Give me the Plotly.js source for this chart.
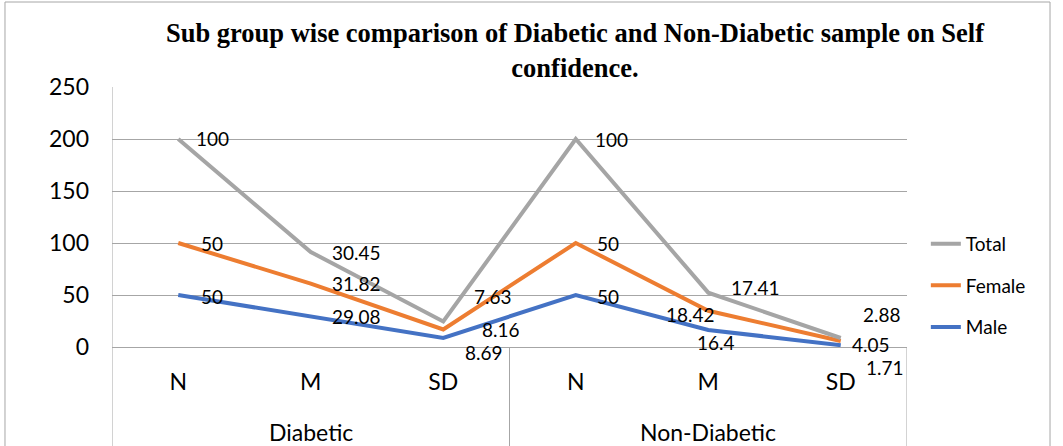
<!DOCTYPE html>
<html>
<head>
<meta charset="utf-8">
<script src="https://cdn.plot.ly/plotly-3.0.1.min.js"></script>
<style>
  html, body { margin: 0; padding: 0; background: #ffffff; }
  #chart { width: 1063px; height: 446px; }
</style>
</head>
<body>
<div id="chart"></div>
<script>
// ---- data ----
const groups = ["Diabetic", "Non-Diabetic"];
const subCategories = ["N", "M", "SD", "N", "M", "SD"];
const seriesNames = ["Male", "Female", "Total"];
const maleValues = [50, 29.08, 8.69, 50, 16.4, 1.71];
const femaleValues = [50, 31.82, 8.16, 50, 18.42, 4.05];
const totalValues = [100, 30.45, 7.63, 100, 17.41, 2.88];
const yTicks = [0, 50, 100, 150, 200, 250];

// ---- styles / label offsets (pixels) ----
const colors = { Male: "#4472C4", Female: "#ED7D31", Total: "#A5A5A5" };
const legendRanks = { Total: 1, Female: 2, Male: 3 };
const labelShift = {
  Total:  [[34, 1], [46, 0], [50, 25], [36, 0], [47, 5], [41, 24]],
  Female: [[34, 0], [46, 0], [58, 0], [32, 0], [-18, -4], [30, -3]],
  Male:   [[34, -1], [46, 0], [41, -15], [32, -1], [8, -13], [44, -22]]
};

const FONT = "Lato, 'Open Sans', sans-serif";
const xIdx = subCategories.map((_, i) => i);
const valuesBySeries = { Male: maleValues, Female: femaleValues, Total: totalValues };

const traces = seriesNames.map(name => ({
  type: "scatter",
  mode: "lines",
  name: name,
  x: xIdx,
  y: valuesBySeries[name],
  stackgroup: "one",
  fill: "none",
  legendgroup: name,
  legendrank: legendRanks[name],
  line: { color: colors[name], width: 4 },
  hoverinfo: "skip"
}));

// cumulative positions for data labels
const cum = xIdx.map(() => 0);
const annotations = [];
seriesNames.forEach(name => {
  valuesBySeries[name].forEach((v, i) => {
    cum[i] += v;
    annotations.push({
      xref: "x", yref: "y", x: i, y: cum[i],
      text: String(v), showarrow: false,
      xanchor: "center", yanchor: "middle",
      xshift: labelShift[name][i][0], yshift: labelShift[name][i][1],
      font: { family: FONT, size: 19, color: "#000000" }
    });
  });
});

// group labels
const perGroup = subCategories.length / groups.length;
groups.forEach((g, gi) => {
  annotations.push({
    xref: "x", yref: "paper",
    x: gi * perGroup + (perGroup - 1) / 2, y: -0.327,
    text: g, showarrow: false, xanchor: "center", yanchor: "middle",
    font: { family: FONT, size: 23, color: "#000000" }
  });
});

const lineGray = "#a6a6a6";
const shapes = [
  // outer chart border
  { type: "rect", xref: "paper", yref: "paper", x0: -0.1346, x1: 1.1799, y0: -0.45, y1: 1.3269,
    line: { color: lineGray, width: 1 }, fillcolor: "rgba(0,0,0,0)", layer: "below" },
  // left axis / group divider
  { type: "line", xref: "x", yref: "paper", x0: -0.5, x1: -0.5, y0: 1, y1: -0.45,
    line: { color: lineGray, width: 1 } }
];
for (let gi = 1; gi <= groups.length; gi++) {
  const xv = gi * perGroup - 0.5;
  shapes.push({ type: "line", xref: "x", yref: "paper", x0: xv, x1: xv, y0: 0, y1: -0.45,
    line: { color: lineGray, width: 1 } });
}

const layout = {
  width: 1063, height: 446,
  margin: { l: 112, r: 156, t: 87, b: 99 },
  paper_bgcolor: "#ffffff", plot_bgcolor: "#ffffff",
  showlegend: true,
  hovermode: false,
  title: {
    text: "<b>Sub group wise comparison of Diabetic and Non-Diabetic sample on Self<br>confidence.</b>",
    font: { family: "'Liberation Serif', 'Times New Roman', serif", size: 26.5, color: "#000000" },
    xref: "paper", x: 0.5824, xanchor: "center",
    yref: "container", y: 0.905, yanchor: "top"
  },
  xaxis: {
    range: [-0.5, subCategories.length - 0.5],
    tickvals: xIdx, ticktext: subCategories,
    showgrid: false, zeroline: false,
    showline: true, linecolor: lineGray, linewidth: 1,
    ticks: "", ticklabelstandoff: 14,
    tickfont: { family: FONT, size: 23, color: "#000000" },
    fixedrange: true
  },
  yaxis: {
    range: [0, 250], tickvals: yTicks, ticktext: yTicks.map(String),
    showgrid: true, gridcolor: lineGray, gridwidth: 1,
    zeroline: false, showline: false,
    ticks: "", ticklabelstandoff: 22,
    tickfont: { family: FONT, size: 23, color: "#000000" },
    fixedrange: true
  },
  legend: {
    x: 1.0237, xanchor: "left", y: 0.47, yanchor: "top",
    traceorder: "grouped", tracegroupgap: 14,
    font: { family: FONT, size: 19, color: "#000000" },
    bgcolor: "rgba(0,0,0,0)"
  },
  annotations: annotations,
  shapes: shapes
};

Plotly.newPlot("chart", traces, layout, { displayModeBar: false, staticPlot: true });
</script>
</body>
</html>
